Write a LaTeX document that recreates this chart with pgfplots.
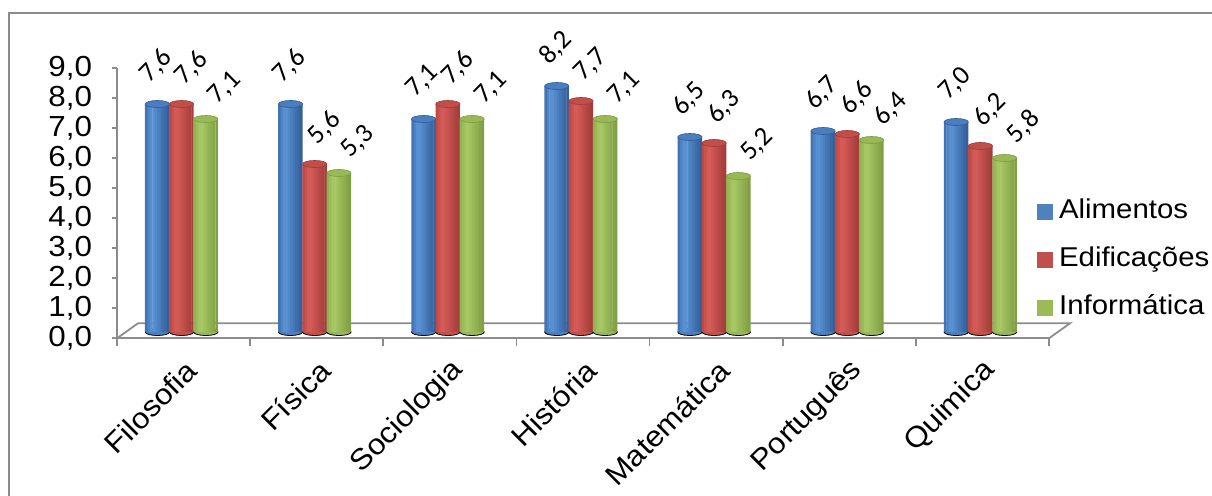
\documentclass[border=0pt]{standalone}
\usepackage{pgfplots}
\pgfplotsset{compat=1.18}
\usepackage{pgfplotstable}
\usepackage{fontspec}
\setmainfont[FakeStretch=1.08]{Liberation Sans}
\newfontfamily\valfamily{Carlito}

\newcommand\ticksfont{\fontsize{14.5}{17}\selectfont}
\newcommand\legfont{\fontsize{13.6}{16}\selectfont}
\newcommand\valfont{\valfamily\fontsize{13.4}{15}\selectfont}

\definecolor{framegray}{HTML}{8C8C8C}
% Alimentos
\definecolor{blueL}{HTML}{3A6AA8}
\definecolor{blueH}{HTML}{5C94D6}
\definecolor{blueR}{HTML}{2F5C96}
\definecolor{blueT}{HTML}{4A7EC0}
\definecolor{blueM}{HTML}{4F81BD}
% Edificacoes
\definecolor{redL}{HTML}{B4433F}
\definecolor{redH}{HTML}{D75D59}
\definecolor{redR}{HTML}{A03B38}
\definecolor{redT}{HTML}{C14E4A}
\definecolor{redM}{HTML}{C0504D}
% Informatica
\definecolor{greenL}{HTML}{8AA94B}
\definecolor{greenH}{HTML}{A9CA66}
\definecolor{greenR}{HTML}{7E9C42}
\definecolor{greenT}{HTML}{98B956}
\definecolor{greenM}{HTML}{9BBB59}

% average grades per subject and course
\pgfplotstableread{
idx alim edif info
0 7.6 7.6 7.1
1 7.6 5.6 5.3
2 7.1 7.6 7.1
3 8.2 7.7 7.1
4 6.5 6.3 5.2
5 6.7 6.6 6.4
6 7.0 6.2 5.8
}\notas

\pgfplotsset{
  /pgf/number format/assume math mode=true,
  cyl axis/.style={at={(58.5pt,82pt)}, anchor=south west,
    width=466pt, height=135pt, scale only axis,
    xmin=0, xmax=7, ymin=0, ymax=9, hide axis, clip=false},
  cyl base/.style={only marks, mark=*, mark size=6.07pt,
    mark options={yscale=0.29, draw=none, fill=#1}},
  % #1 top fill, #2 rim, #3/#4 shift of the value label
  cyl top/.style n args={4}{forget plot, only marks, mark=*, mark size=6.07pt,
    mark options={yscale=0.29, draw=#2, line width=0.3pt, fill=#1},
    nodes near coords={\pgfmathprintnumber[fixed, fixed zerofill, precision=1, use comma]{\pgfplotspointmeta}},
    every node near coord/.append style={font=\valfont, text=black, xshift=#3, yshift=#4, rotate=45, anchor=center, inner sep=0pt}},
  strip/.style={forget plot, ybar, bar width=1.45pt, bar shift=#1, draw=none},
}

% one cylinder body per value: vertical strips that go dark -> light -> dark
% #1 column, #2 x offset in the group, #3 left, #4 highlight, #5 right colour
\newcommand\cylbody[5]{%
  \addplot[strip=-5.454pt, fill=#4!25!#3] table[x expr=\thisrow{idx}+#2, y=#1]{\notas};
  \addplot[strip=-4.242pt, fill=#4!58!#3] table[x expr=\thisrow{idx}+#2, y=#1]{\notas};
  \addplot[strip=-3.030pt, fill=#4!88!#3] table[x expr=\thisrow{idx}+#2, y=#1]{\notas};
  \addplot[strip=-1.818pt, fill=#4!95!#5] table[x expr=\thisrow{idx}+#2, y=#1]{\notas};
  \addplot[strip=-0.606pt, fill=#4!80!#5] table[x expr=\thisrow{idx}+#2, y=#1]{\notas};
  \addplot[strip=0.606pt, fill=#4!65!#5] table[x expr=\thisrow{idx}+#2, y=#1]{\notas};
  \addplot[strip=1.818pt, fill=#4!50!#5] table[x expr=\thisrow{idx}+#2, y=#1]{\notas};
  \addplot[strip=3.030pt, fill=#4!36!#5] table[x expr=\thisrow{idx}+#2, y=#1]{\notas};
  \addplot[strip=4.242pt, fill=#4!22!#5] table[x expr=\thisrow{idx}+#2, y=#1]{\notas};
  \addplot[strip=5.454pt, fill=#4!8!#5, bar width=1.212pt] table[x expr=\thisrow{idx}+#2, y=#1]{\notas};
}

\begin{document}
\begin{tikzpicture}
\path[use as bounding box] (0,0) rectangle (606pt,248pt);
\draw[framegray, line width=0.9pt] (4.5pt,-10pt) -- (4.5pt,241.5pt) -- (630pt,241.5pt);

% frame: value axis, floor and subject labels
\begin{axis}[
  at={(58.5pt,78.85pt)}, anchor=south west,
  width=466pt, height=135pt, scale only axis,
  xmin=0, xmax=7, ymin=0, ymax=9,
  axis x line*=bottom, axis y line*=left,
  axis line style={framegray, line width=0.9pt, -},
  ytick={0,...,9},
  xtick={0.5,1.5,...,6.5},
  xticklabels={Filosofia,Física,Sociologia,História,Matemática,Português,Quimica},
  minor xtick={0,...,7},
  tick align=outside,
  major tick length=2.5pt, minor tick length=4pt,
  tick style={framegray, line width=0.9pt},
  major x tick style={draw=none},
  yticklabel style={font=\ticksfont, xshift=-6.5pt, /pgf/number format/.cd, fixed, fixed zerofill, precision=1, use comma},
  xticklabel style={font=\ticksfont, rotate=45, anchor=east, inner sep=0pt, yshift=-10.9pt, xshift=-4.8pt},
  clip=false,
]
\draw[framegray, line width=0.9pt] (axis cs:0,0) -- ++(10.5pt,7.5pt)
  -- ([shift={(10.5pt,7.5pt)}]axis cs:7,0) -- (axis cs:7,0);
\end{axis}

% rounded cylinder bottoms, underneath the bodies
\begin{axis}[cyl axis]
\addplot[cyl base=blueH!50!blueL] table[x expr=\thisrow{idx}+0.303, y expr=0]{\notas};
\addplot[cyl base=redH!50!redL] table[x expr=\thisrow{idx}+0.485, y expr=0]{\notas};
\addplot[cyl base=greenH!50!greenL] table[x expr=\thisrow{idx}+0.667, y expr=0]{\notas};
\end{axis}

% cylinder bodies, tops and values
\begin{axis}[cyl axis,
  legend style={at={(0.987,0.267)}, anchor=west, draw=none, fill=none,
    font=\legfont, inner sep=0pt, row sep=11pt,
    nodes={inner sep=0pt, text height=10pt, text depth=3pt},
    /tikz/every odd column/.style={column sep=3pt}},
  legend cell align=left,
]
\cylbody{alim}{0.303}{blueL}{blueH}{blueR}
\addplot[cyl top={blueT}{blueR}{-0.5pt}{19pt}] table[x expr=\thisrow{idx}+0.303, y=alim]{\notas};

\cylbody{edif}{0.485}{redL}{redH}{redR}
\addplot[cyl top={redT}{redR}{5pt}{18pt}] table[x expr=\thisrow{idx}+0.485, y=edif]{\notas};

\cylbody{info}{0.667}{greenL}{greenH}{greenR}
\addplot[cyl top={greenT}{greenR}{9.5pt}{15.5pt}] table[x expr=\thisrow{idx}+0.667, y=info]{\notas};

\addlegendimage{legend image code/.code={\fill[blueM] (0pt,-3.75pt) rectangle (7.5pt,3.75pt);}}
\addlegendentry{Alimentos}
\addlegendimage{legend image code/.code={\fill[redM] (0pt,-3.75pt) rectangle (7.5pt,3.75pt);}}
\addlegendentry{Edificações}
\addlegendimage{legend image code/.code={\fill[greenM] (0pt,-3.75pt) rectangle (7.5pt,3.75pt);}}
\addlegendentry{Informática}
\end{axis}
\end{tikzpicture}
\end{document}
